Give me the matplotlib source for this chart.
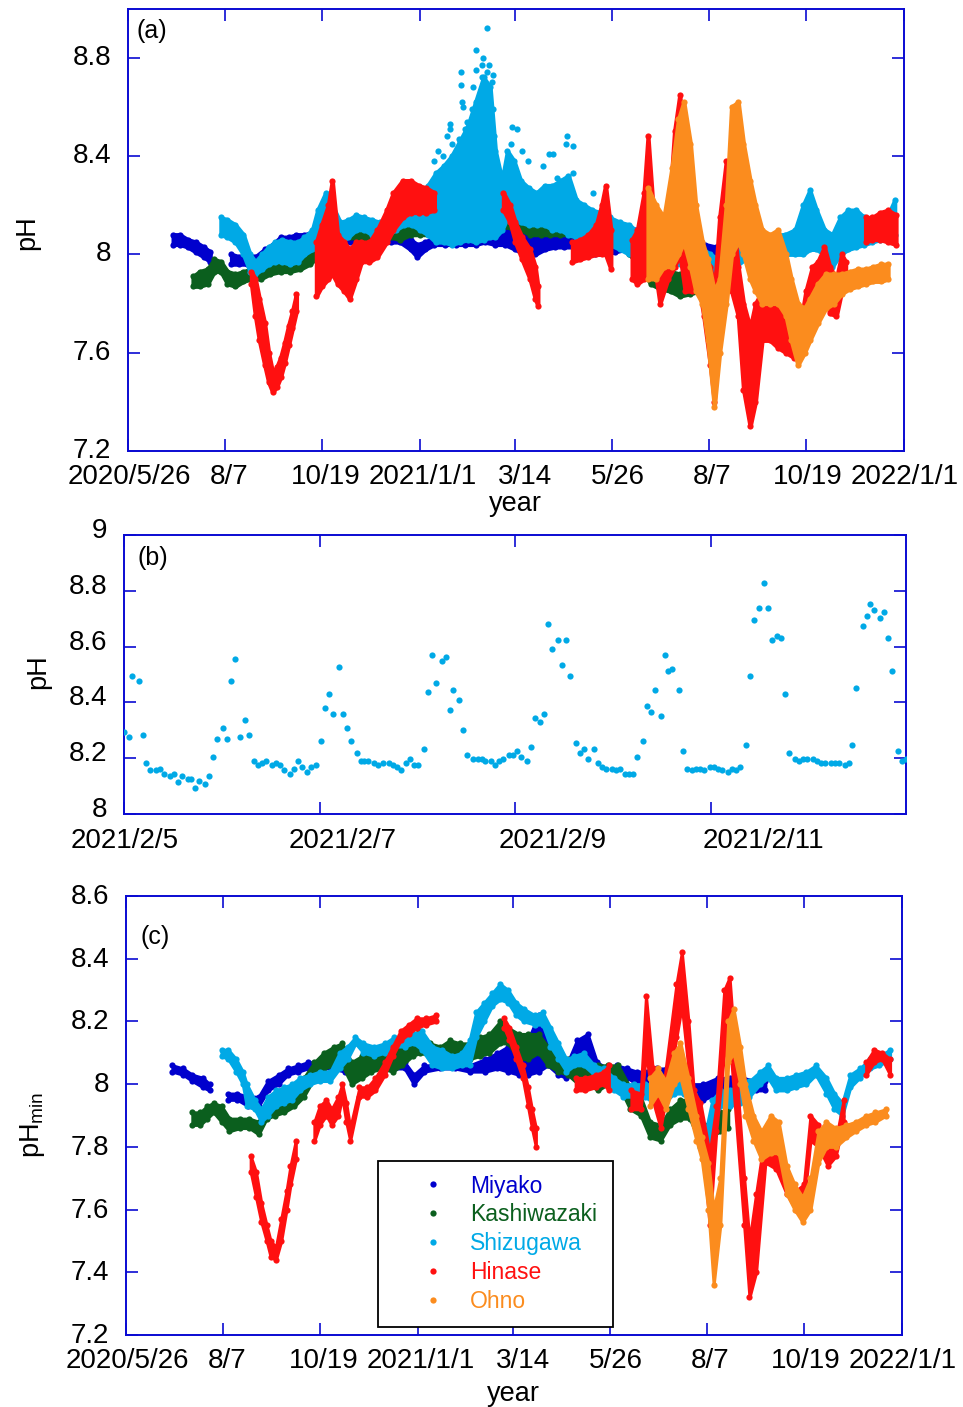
"""
pH time series at five coastal sites: raw pH (a), one week zoom (b), daily minimum (c)
"""
import numpy as np
import matplotlib
matplotlib.use('Agg')
import matplotlib.pyplot as plt
from matplotlib.lines import Line2D
from matplotlib.transforms import ScaledTranslation

plt.rcParams['font.family'] = ['Liberation Sans', 'DejaVu Sans']
plt.rcParams['mathtext.fontset'] = 'custom'
plt.rcParams['mathtext.rm'] = 'Liberation Sans'

SITES = ['Miyako', 'Kashiwazaki', 'Shizugawa', 'Hinase', 'Ohno']
COLORS = ['#0000CD', '#0B5F1E', '#00A9E6', '#FF1010', '#FB8C1E']
FRAME = '#0A0AD2'

# x axis of (a) and (c): days since 2020/5/26
date_ticks = [0, 73, 146, 220, 292, 365, 438, 511, 585]
date_labels = ['2020/5/26', '8/7', '10/19', '2021/1/1', '3/14', '5/26', '8/7', '10/19', '2022/1/1']

# ---- panel (a): pH range (low / high) read per time bin ----
miyako_a_t = [34, 39, 45, 51, 57, 62, 78, 84, 90, 96, 103, 109, 115, 121, 127, 133,
              139, 145, 152, 160, 167, 175, 182, 190, 198, 205, 213, 218, 224, 231, 239, 247,
              254, 262, 269, 277, 284, 292, 299, 307, 314, 322, 329, 337, 345, 352, 360, 367,
              375, 382, 390, 397, 405, 412, 420, 427, 435, 443, 450, 458, 465, 473, 480]
miyako_a_lo = [8.04, 8.04, 8.03, 8.01, 7.99, 7.97, 7.96, 7.96, 7.96, 7.95, 7.97, 7.99, 8.02, 8.03, 8.04, 8.05,
               8.05, 8.05, 8.05, 8.05, 8.05, 8.05, 8.05, 8.05, 8.05, 8.05, 8.02, 7.99, 8.02, 8.04, 8.04, 8.04,
               8.04, 8.04, 8.05, 8.04, 8.04, 8.02, 8.00, 8.00, 8.02, 8.03, 8.03, 8.03, 8.00, 8.00, 8.00, 8.01,
               8.02, 8.02, 8.02, 8.02, 8.02, 8.01, 8.01, 8.01, 8.00, 8.00, 7.99, 7.99, 8.00, 8.00, 8.00]
miyako_a_hi = [8.08, 8.08, 8.06, 8.05, 8.03, 8.01, 8.00, 7.99, 8.00, 7.99, 8.02, 8.04, 8.07, 8.07, 8.08, 8.08,
               8.09, 8.09, 8.09, 8.08, 8.08, 8.08, 8.09, 8.09, 8.09, 8.08, 8.06, 8.04, 8.05, 8.07, 8.07, 8.07,
               8.08, 8.10, 8.12, 8.15, 8.16, 8.17, 8.18, 8.20, 8.22, 8.20, 8.18, 8.14, 8.12, 8.10, 8.10, 8.10,
               8.10, 8.10, 8.08, 8.06, 8.06, 8.05, 8.05, 8.05, 8.04, 8.03, 8.03, 8.03, 8.03, 8.03, 8.02]

kashi_a_t = [49, 54, 60, 65, 70, 75, 81, 87, 93, 100, 107, 115, 122, 130, 137, 145, 152, 160, 167,
             175, 182, 190, 198, 205, 213, 220, 228, 235, 243, 250, 258, 265, 273, 280, 288, 296, 303,
             311, 318, 326, 333, 341, 348, 356, 363, 371, 378, 386, 394, 401, 409, 416, 424, 431, 439,
             446, 454]
kashi_a_lo = [7.87, 7.87, 7.88, 7.93, 7.93, 7.88, 7.87, 7.89, 7.90, 7.90, 7.92, 7.93, 7.93, 7.94, 7.96, 8.00,
              8.03, 8.07, 8.07, 8.06, 8.06, 8.06, 8.07, 8.06, 8.08, 8.08, 8.08, 8.08, 8.08, 8.09, 8.09, 8.09,
              8.10, 8.11, 8.11, 8.10, 8.08, 8.08, 8.08, 8.08, 8.08, 8.07, 8.06, 8.06, 8.07, 8.06, 8.00, 7.95,
              7.88, 7.86, 7.85, 7.83, 7.84, 7.85, 7.85, 7.86, 7.86]
kashi_a_hi = [7.91, 7.93, 7.94, 7.98, 7.97, 7.93, 7.92, 7.93, 7.94, 7.95, 7.96, 7.97, 7.97, 8.00, 8.02, 8.05,
              8.08, 8.12, 8.13, 8.12, 8.11, 8.10, 8.10, 8.11, 8.12, 8.14, 8.12, 8.12, 8.12, 8.13, 8.13, 8.13,
              8.15, 8.17, 8.18, 8.17, 8.15, 8.15, 8.14, 8.13, 8.12, 8.12, 8.12, 8.13, 8.14, 8.12, 8.10, 8.05,
              7.98, 7.95, 7.93, 7.92, 7.92, 7.93, 7.94, 7.95, 7.95]

shizu_a_t = [70, 75, 81, 87, 92, 96, 101, 106, 111, 116, 122, 128, 133, 139, 143, 149, 154, 160, 166, 172,
             178, 184, 190, 196, 202, 208, 214, 220, 226, 232, 238, 244, 250, 256, 262, 268, 273, 277, 282, 286,
             291, 296, 302, 308, 314, 320, 326, 332, 338, 344, 350, 356, 363, 371, 378, 386, 394, 401, 409, 416,
             424, 431, 439, 445, 451, 458, 465, 473, 480, 488, 495, 503, 509, 514, 519, 525, 531, 537, 543, 549,
             555, 561, 567, 573, 578]
shizu_a_lo = [8.08, 8.07, 8.05, 8.00, 7.93, 7.92, 7.94, 7.96, 7.97, 7.97, 7.96, 7.97, 8.00, 8.02, 8.05, 8.10, 8.08, 8.05, 8.07, 8.10,
              8.10, 8.08, 8.08, 8.08, 8.10, 8.12, 8.12, 8.10, 8.08, 8.05, 8.05, 8.04, 8.05, 8.06, 8.05, 8.06, 8.07, 8.07, 8.10, 8.15,
              8.15, 8.13, 8.12, 8.12, 8.12, 8.10, 8.10, 8.08, 8.07, 8.06, 8.05, 8.05, 8.04, 8.02, 8.00, 8.00, 7.98, 7.97, 7.96, 7.96,
              7.96, 7.95, 7.85, 7.78, 7.85, 7.95, 7.98, 7.99, 8.00, 8.00, 8.00, 8.00, 8.00, 8.02, 8.02, 8.00, 7.95, 8.00, 8.02, 8.03,
              8.04, 8.05, 8.06, 8.07, 8.08]
shizu_a_hi = [8.15, 8.14, 8.12, 8.08, 8.00, 7.97, 8.00, 8.03, 8.05, 8.06, 8.05, 8.05, 8.07, 8.10, 8.18, 8.25, 8.20, 8.13, 8.14, 8.16,
              8.15, 8.14, 8.13, 8.14, 8.15, 8.17, 8.20, 8.22, 8.28, 8.33, 8.36, 8.40, 8.46, 8.52, 8.62, 8.72, 8.68, 8.42, 8.30, 8.42,
              8.38, 8.30, 8.27, 8.25, 8.28, 8.28, 8.30, 8.32, 8.22, 8.20, 8.18, 8.17, 8.15, 8.13, 8.12, 8.08, 8.05, 8.04, 8.04, 8.03,
              8.04, 8.03, 8.00, 7.98, 8.00, 8.00, 8.05, 8.07, 8.07, 8.08, 8.08, 8.10, 8.20, 8.26, 8.18, 8.10, 8.08, 8.15, 8.18, 8.18,
              8.15, 8.14, 8.15, 8.16, 8.22]
# scattered high Shizugawa readings, winter 2021
shizu_a_sparse_t = [270.9, 262.4, 267.9, 266.6, 272.2, 250.8, 262.4, 270.9, 275.4, 266.6, 274.2, 251.0, 260.3, 270.9,
                    265.4, 251.6, 269.9, 275.4, 252.8, 259.1, 265.4, 255.3, 264.1, 242.8, 242.8, 254.1, 272.4, 259.1,
                    265.4, 275.9, 257.8, 249.8, 272.4, 240.3, 244.0, 234.0, 237.7, 247.8, 255.3, 262.9, 230.7, 241.5,
                    265.4, 275.4, 289.3, 293.5, 330.7, 330.2, 335.7, 317.4, 320.2, 296.8, 301.3, 313.1, 323.2, 335.7,
                    350.3, 288.7]
shizu_a_sparse_ph = [8.92, 8.83, 8.80, 8.77, 8.77, 8.74, 8.75, 8.74, 8.73, 8.72, 8.70, 8.69, 8.68, 8.67,
                     8.65, 8.62, 8.63, 8.59, 8.60, 8.59, 8.59, 8.54, 8.57, 8.53, 8.51, 8.51, 8.54, 8.52,
                     8.53, 8.48, 8.48, 8.47, 8.48, 8.48, 8.45, 8.42, 8.40, 8.42, 8.44, 8.44, 8.38, 8.36,
                     8.41, 8.42, 8.52, 8.51, 8.48, 8.45, 8.44, 8.41, 8.41, 8.42, 8.38, 8.36, 8.31, 8.33,
                     8.25, 8.45]

hinase_a_t = [93, 96, 99, 103, 106, 109, 112, 115, 118, 121, 124, 127,
              142, 146, 151, 154, 158, 163, 167, 172, 176, 182, 188, 195, 200, 207, 213, 219, 225, 231,
              283, 288, 292, 297, 303, 307, 309,
              335, 341, 347, 353, 357, 360, 364,
              380, 384, 389, 392, 397, 401, 407, 412, 416, 420, 425, 430, 434, 439, 442, 446, 451, 455,
              460, 464, 469, 473, 478, 484, 490, 496, 502, 507, 511, 516, 520, 525, 529, 534, 538, 541,
              556, 561, 567, 573, 579]
hinase_a_lo = [7.88, 7.75, 7.65, 7.55, 7.48, 7.44, 7.46, 7.50, 7.56, 7.63, 7.70, 7.77,
               7.83, 7.87, 7.90, 7.92, 7.88, 7.85, 7.82, 7.90, 7.97, 7.97, 7.99, 8.05, 8.10, 8.15, 8.17, 8.17, 8.17, 8.18,
               8.18, 8.13, 8.05, 7.98, 7.90, 7.82, 7.79,
               7.97, 7.98, 7.99, 8.00, 8.00, 8.00, 7.94,
               7.90, 7.88, 7.90, 8.00, 7.95, 7.80, 7.90, 7.95, 8.00, 7.85, 7.85, 7.88, 7.75, 7.55, 7.40, 7.70, 7.90, 7.85,
               7.75, 7.45, 7.30, 7.40, 7.65, 7.65, 7.62, 7.60, 7.58, 7.60, 7.70, 7.80, 7.85, 7.85, 7.76, 7.75, 7.85, 7.87,
               8.05, 8.06, 8.06, 8.05, 8.04]
hinase_a_hi = [7.93, 7.90, 7.82, 7.72, 7.60, 7.52, 7.54, 7.58, 7.64, 7.71, 7.77, 7.84,
               8.05, 8.12, 8.20, 8.30, 8.08, 8.05, 8.02, 8.05, 8.05, 8.05, 8.10, 8.18, 8.25, 8.30, 8.30, 8.28, 8.27, 8.25,
               8.25, 8.20, 8.13, 8.07, 8.02, 7.95, 7.87,
               8.05, 8.06, 8.08, 8.12, 8.20, 8.28, 8.10,
               8.06, 8.10, 8.25, 8.48, 8.10, 8.05, 8.10, 8.50, 8.65, 8.35, 8.05, 8.05, 8.00, 7.95, 7.85, 8.15, 8.38, 8.20,
               7.95, 7.80, 7.70, 7.80, 7.85, 7.85, 7.80, 7.78, 7.70, 7.72, 7.85, 7.95, 7.97, 8.03, 7.95, 7.90, 8.00, 7.97,
               8.15, 8.15, 8.17, 8.18, 8.16]

ohno_a_t = [392, 398, 404, 410, 415, 419, 424, 428, 433, 437, 442, 446, 451, 455, 460, 464, 469, 473,
            478, 484, 490, 496, 500, 505, 510, 514, 520, 526, 532, 538, 544, 550, 556, 562, 568, 573]
ohno_a_lo = [7.90, 7.90, 7.95, 7.95, 8.00, 8.05, 7.95, 7.85, 7.80, 7.65, 7.38, 7.60, 7.80, 8.00, 8.05, 8.00, 7.90, 7.85,
             7.80, 7.80, 7.80, 7.75, 7.65, 7.55, 7.60, 7.65, 7.72, 7.78, 7.80, 7.84, 7.86, 7.87, 7.88, 7.89, 7.89, 7.90]
ohno_a_hi = [8.27, 8.20, 8.15, 8.35, 8.55, 8.62, 8.45, 8.20, 8.05, 7.98, 7.85, 7.90, 8.20, 8.60, 8.62, 8.45, 8.30, 8.20,
             8.10, 8.08, 8.10, 8.00, 7.90, 7.80, 7.78, 7.82, 7.88, 7.92, 7.92, 7.92, 7.93, 7.94, 7.94, 7.95, 7.96, 7.96]

# ---- panel (b): Shizugawa, days since 2021/2/5 ----
shizu_b_t = [0.00, 0.05, 0.085, 0.15, 0.19, 0.23, 0.27, 0.33, 0.37, 0.41, 0.47, 0.51, 0.55, 0.59, 0.65, 0.69,
             0.73, 0.77, 0.83, 0.87, 0.91, 0.95, 1.01, 1.05, 1.09, 1.135, 1.19, 1.235, 1.275, 1.33, 1.375, 1.415,
             1.455, 1.515, 1.555, 1.60, 1.64, 1.695, 1.737, 1.78, 1.82, 1.877, 1.918, 1.96, 2.02, 2.06, 2.10, 2.14,
             2.20, 2.24, 2.28, 2.32, 2.38, 2.42, 2.46, 2.50, 2.56, 2.60, 2.645, 2.71, 2.75, 2.79, 2.83, 2.89,
             2.93, 2.97, 3.01, 3.07, 3.11, 3.15, 3.19, 3.25, 3.29, 3.33, 3.37, 3.43, 3.47, 3.51, 3.575, 3.617,
             3.66, 3.696, 3.754, 3.795, 3.836, 3.88, 3.94, 3.98, 4.02, 4.06, 4.12, 4.16, 4.20, 4.26, 4.30, 4.34,
             4.38, 4.44, 4.48, 4.52, 4.565, 4.627, 4.664, 4.705, 4.747, 4.81, 4.846, 4.887, 4.928, 4.99, 5.03, 5.07,
             5.13, 5.17, 5.21, 5.25, 5.31, 5.35, 5.394, 5.43, 5.49, 5.534, 5.57, 5.61, 5.675, 5.716, 5.757, 5.815,
             5.856, 5.897, 5.938, 5.997, 6.04, 6.08, 6.12, 6.18, 6.22, 6.26, 6.30, 6.36, 6.40, 6.44, 6.50, 6.545,
             6.586, 6.627, 6.685, 6.726, 6.767, 6.805, 6.866, 6.908, 6.95, 6.99, 7.048, 7.09, 7.13, 7.17, 7.23, 7.27,
             7.31, 7.373, 7.414, 7.45, 7.49, 7.555, 7.596, 7.634, 7.675, 7.736, 7.777, 7.818, 7.856, 7.918, 7.96, 8.0]
shizu_b_ph = [8.295, 8.275, 8.493, 8.477, 8.282, 8.183, 8.156, 8.156, 8.163, 8.142, 8.135, 8.142, 8.114, 8.135, 8.127, 8.127,
              8.093, 8.120, 8.107, 8.135, 8.204, 8.268, 8.310, 8.268, 8.477, 8.555, 8.275, 8.337, 8.282, 8.190, 8.176, 8.183,
              8.190, 8.176, 8.183, 8.176, 8.156, 8.142, 8.163, 8.190, 8.169, 8.149, 8.169, 8.176, 8.260, 8.380, 8.429, 8.358,
              8.527, 8.358, 8.310, 8.260, 8.218, 8.190, 8.190, 8.190, 8.183, 8.176, 8.183, 8.183, 8.176, 8.169, 8.156, 8.183,
              8.198, 8.176, 8.176, 8.232, 8.436, 8.569, 8.470, 8.548, 8.562, 8.373, 8.443, 8.407, 8.302, 8.211, 8.198, 8.198,
              8.198, 8.190, 8.190, 8.176, 8.190, 8.198, 8.212, 8.212, 8.225, 8.205, 8.190, 8.239, 8.344, 8.331, 8.358, 8.681,
              8.590, 8.625, 8.535, 8.625, 8.493, 8.254, 8.219, 8.232, 8.198, 8.232, 8.183, 8.169, 8.162, 8.162, 8.156, 8.162,
              8.142, 8.142, 8.142, 8.205, 8.260, 8.387, 8.365, 8.443, 8.351, 8.569, 8.513, 8.520, 8.443, 8.225, 8.162, 8.156,
              8.162, 8.162, 8.156, 8.169, 8.169, 8.162, 8.156, 8.149, 8.162, 8.156, 8.169, 8.246, 8.493, 8.695, 8.737, 8.829,
              8.737, 8.625, 8.639, 8.632, 8.429, 8.219, 8.198, 8.190, 8.198, 8.198, 8.198, 8.190, 8.183, 8.183, 8.183, 8.183,
              8.183, 8.176, 8.183, 8.246, 8.450, 8.674, 8.708, 8.751, 8.730, 8.702, 8.723, 8.632, 8.513, 8.225, 8.190, 8.198]
b_ticks = [0, 2, 4, 6]
b_labels = ['2021/2/5', '2021/2/7', '2021/2/9', '2021/2/11']

# ---- panel (c): daily minimum pH (low / high of the band per bin) ----
miyako_c_t = [35, 43, 50, 58, 63, 77, 84, 92, 100, 107, 115, 122, 130, 137, 146, 155, 165, 175,
              184, 193, 203, 210, 217, 225, 237, 248, 259, 271, 280, 288, 296, 303, 311, 318, 326,
              332, 340, 348, 355, 363, 370, 378, 385, 393, 400, 408, 415, 425, 435, 446, 455, 465, 475, 482]
miyako_c_lo = [8.04, 8.03, 8.01, 7.99, 7.98, 7.95, 7.95, 7.93, 7.93, 7.98, 8.00, 8.03, 8.04, 8.05, 8.05, 8.05, 8.04, 8.04,
               8.05, 8.05, 8.05, 8.05, 8.00, 8.04, 8.05, 8.05, 8.04, 8.04, 8.05, 8.04, 8.03, 8.03, 8.04, 8.06, 8.03,
               8.02, 8.09, 8.10, 8.02, 8.00, 8.02, 8.02, 8.00, 8.00, 8.02, 8.02, 8.02, 7.96, 7.95, 7.97, 7.97, 7.97, 7.98, 7.98]
miyako_c_hi = [8.06, 8.05, 8.03, 8.02, 8.00, 7.97, 7.97, 7.96, 7.96, 8.01, 8.03, 8.05, 8.06, 8.07, 8.07, 8.07, 8.06, 8.06,
               8.07, 8.07, 8.07, 8.07, 8.03, 8.06, 8.06, 8.06, 8.06, 8.08, 8.10, 8.12, 8.14, 8.14, 8.22, 8.12, 8.07,
               8.06, 8.14, 8.16, 8.07, 8.05, 8.06, 8.05, 8.04, 8.04, 8.05, 8.05, 8.05, 8.00, 8.00, 8.02, 8.02, 8.02, 8.01, 8.01]

kashi_c_t = [50, 56, 61, 66, 72, 78, 86, 93, 100, 106, 112, 119, 127, 134, 142, 149, 157, 163, 170,
             178, 185, 193, 201, 208, 216, 222, 229, 237, 244, 252, 259, 267, 274, 282, 288, 296, 303,
             311, 318, 326, 333, 341, 348, 356, 363, 371, 380, 388, 395, 403, 410, 418, 425, 433, 440,
             448, 454]
kashi_c_lo = [7.87, 7.87, 7.89, 7.91, 7.88, 7.85, 7.86, 7.86, 7.84, 7.89, 7.90, 7.91, 7.93, 7.96, 8.02, 8.05, 8.06, 8.06, 8.00,
              8.02, 8.04, 8.05, 8.04, 8.06, 8.09, 8.10, 8.09, 8.08, 8.09, 8.08, 8.08, 8.09, 8.10, 8.13, 8.13, 8.08, 8.08,
              8.10, 8.06, 8.04, 8.03, 8.00, 8.00, 7.98, 8.00, 8.00, 7.92, 7.90, 7.83, 7.82, 7.87, 7.89, 7.89, 7.81, 7.83,
              7.85, 7.86]
kashi_c_hi = [7.91, 7.91, 7.93, 7.94, 7.93, 7.89, 7.89, 7.89, 7.88, 7.93, 7.96, 7.95, 7.98, 8.02, 8.07, 8.10, 8.12, 8.13, 8.07,
              8.09, 8.10, 8.10, 8.12, 8.14, 8.16, 8.17, 8.13, 8.12, 8.14, 8.13, 8.13, 8.15, 8.16, 8.20, 8.18, 8.16, 8.16,
              8.16, 8.12, 8.09, 8.08, 8.06, 8.07, 8.06, 8.06, 8.06, 7.99, 7.96, 7.88, 7.87, 7.92, 7.95, 7.95, 7.86, 7.88,
              7.91, 7.92]

shizu_c_t = [72, 77, 83, 88, 91, 97, 102, 107, 113, 119, 125, 131, 139, 146, 154, 161, 167, 173, 179, 187,
             195, 202, 210, 217, 223, 231, 238, 246, 253, 259, 264, 270, 276, 282, 288, 294, 300, 308, 314, 320,
             326, 332, 338, 345, 353, 360, 368, 375, 383, 391, 398, 406, 413, 421, 428, 433, 437, 442, 448, 455,
             463, 470, 478, 484, 490, 498, 505, 513, 520, 528, 534, 540, 546, 553, 561, 568, 576]
shizu_c_lo = [8.09, 8.08, 8.04, 8.00, 7.93, 7.92, 7.88, 7.90, 7.93, 7.94, 7.95, 7.98, 8.00, 8.01, 8.01, 8.05, 8.08, 8.13, 8.10, 8.09,
              8.10, 8.12, 8.12, 8.13, 8.11, 8.06, 8.05, 8.05, 8.06, 8.06, 8.15, 8.20, 8.25, 8.27, 8.26, 8.22, 8.20, 8.19, 8.19, 8.12,
              8.08, 8.04, 8.06, 8.06, 8.03, 8.02, 7.98, 7.96, 7.96, 7.96, 7.94, 7.94, 7.97, 7.97, 7.92, 7.80, 7.75, 7.88, 7.93, 7.93,
              7.94, 7.96, 8.00, 8.02, 7.98, 7.98, 7.99, 8.00, 8.03, 7.97, 7.92, 7.90, 7.99, 8.02, 8.05, 8.06, 8.08]
shizu_c_hi = [8.11, 8.11, 8.08, 8.04, 8.00, 7.95, 7.92, 7.96, 7.98, 7.99, 8.00, 8.02, 8.03, 8.04, 8.04, 8.10, 8.12, 8.15, 8.13, 8.12,
              8.13, 8.15, 8.15, 8.16, 8.17, 8.12, 8.11, 8.09, 8.10, 8.14, 8.23, 8.26, 8.29, 8.32, 8.30, 8.26, 8.24, 8.22, 8.23, 8.18,
              8.13, 8.08, 8.09, 8.10, 8.06, 8.05, 8.02, 8.00, 8.00, 8.00, 8.00, 8.00, 8.01, 8.01, 7.97, 7.90, 7.85, 7.95, 7.98, 7.98,
              8.00, 8.01, 8.04, 8.06, 8.02, 8.02, 8.03, 8.04, 8.06, 8.02, 7.97, 7.94, 8.03, 8.05, 8.08, 8.09, 8.11]

hinase_c_t = [94, 98, 102, 106, 109, 113, 117, 121, 124, 128,
              142, 146, 151, 155, 160, 163, 166, 169, 176, 182, 188, 195, 201, 207, 213, 219, 226, 234,
              285, 289, 294, 299, 303, 306, 309,
              339, 346, 354, 360, 364,
              381, 388, 392, 397, 403, 415, 419, 424, 428, 433, 440, 445, 451, 455, 466, 470, 475,
              482, 490, 498, 505, 511, 516, 522, 529, 535, 541,
              558, 564, 570, 576]
hinase_c_lo = [7.72, 7.64, 7.56, 7.50, 7.45, 7.44, 7.50, 7.60, 7.68, 7.76,
               7.82, 7.87, 7.90, 7.87, 7.90, 7.96, 7.88, 7.82, 7.96, 7.96, 7.98, 8.03, 8.09, 8.14, 8.16, 8.18, 8.19, 8.20,
               8.18, 8.14, 8.08, 8.02, 7.93, 7.86, 7.80,
               7.98, 7.98, 7.99, 8.00, 7.98,
               7.92, 7.92, 8.10, 7.95, 7.86, 8.15, 8.25, 8.05, 7.90, 7.88, 7.55, 7.85, 8.10, 8.15, 7.55, 7.32, 7.40,
               7.75, 7.73, 7.65, 7.60, 7.62, 7.82, 7.80, 7.74, 7.77, 7.88,
               8.03, 8.07, 8.08, 8.03]
hinase_c_hi = [7.77, 7.72, 7.62, 7.55, 7.50, 7.48, 7.57, 7.66, 7.74, 7.82,
               7.88, 7.93, 7.95, 7.92, 7.96, 8.00, 7.94, 7.86, 7.99, 7.99, 8.02, 8.07, 8.12, 8.17, 8.19, 8.21, 8.21, 8.22,
               8.21, 8.18, 8.12, 8.06, 7.99, 7.92, 7.86,
               8.02, 8.02, 8.03, 8.04, 8.06,
               7.98, 7.97, 8.28, 8.05, 7.92, 8.32, 8.42, 8.20, 7.98, 7.94, 7.78, 7.93, 8.30, 8.34, 7.70, 7.50, 7.65,
               7.85, 7.82, 7.72, 7.66, 7.68, 7.90, 7.87, 7.80, 7.82, 7.95,
               8.07, 8.11, 8.10, 8.08]

ohno_c_t = [395, 401, 407, 413, 418, 424, 430, 434, 439, 443, 448, 454, 458, 463, 467, 473,
            479, 486, 492, 498, 504, 510, 516, 522, 528, 535, 543, 550, 558, 565, 573]
ohno_c_lo = [7.93, 7.97, 7.92, 8.00, 8.02, 7.92, 7.82, 7.76, 7.60, 7.36, 7.55, 8.07, 8.10, 8.00, 7.90, 7.82,
             7.76, 7.78, 7.78, 7.65, 7.60, 7.56, 7.60, 7.75, 7.80, 7.80, 7.83, 7.85, 7.87, 7.88, 7.90]
ohno_c_hi = [8.02, 8.05, 8.01, 8.10, 8.13, 8.02, 7.90, 7.83, 7.75, 7.60, 7.70, 8.20, 8.24, 8.12, 8.00, 7.90,
             7.85, 7.90, 7.88, 7.74, 7.68, 7.64, 7.70, 7.85, 7.88, 7.86, 7.87, 7.88, 7.90, 7.91, 7.92]

series_a = [(miyako_a_t, miyako_a_lo, miyako_a_hi), (kashi_a_t, kashi_a_lo, kashi_a_hi),
            (shizu_a_t, shizu_a_lo, shizu_a_hi), (hinase_a_t, hinase_a_lo, hinase_a_hi),
            (ohno_a_t, ohno_a_lo, ohno_a_hi)]
series_c = [(miyako_c_t, miyako_c_lo, miyako_c_hi), (kashi_c_t, kashi_c_lo, kashi_c_hi),
            (shizu_c_t, shizu_c_lo, shizu_c_hi), (hinase_c_t, hinase_c_lo, hinase_c_hi),
            (ohno_c_t, ohno_c_lo, ohno_c_hi)]

DOT = 20      # scatter size, pt^2
TICK_FS = 20
LABEL_FS = 19.5


def draw_band(ax, t, lo, hi, color, z, edge=3.0, gap=13):
    """Dense cloud of points drawn as a filled low/high band with dotted edges"""
    t = np.asarray(t, float)
    lo = np.asarray(lo, float)
    hi = np.asarray(hi, float)
    breaks = np.where(np.diff(t) > gap)[0] + 1
    for seg in np.split(np.arange(len(t)), breaks):
        ax.fill_between(t[seg], lo[seg], hi[seg], facecolor=color, edgecolor=color,
                        lw=edge, joinstyle='round', zorder=z)
    ax.scatter(t, lo, s=DOT, color=color, lw=0, zorder=z)
    ax.scatter(t, hi, s=DOT, color=color, lw=0, zorder=z)


def shift(labels, dx_px, dy_px=0):
    for lab, dx in zip(labels, dx_px):
        lab.set_transform(lab.get_transform() +
                          ScaledTranslation(dx / 100, dy_px / 100, fig.dpi_scale_trans))


def style_axes(ax, xpad, ypad=12):
    for sp in ax.spines.values():
        sp.set_color(FRAME)
        sp.set_linewidth(1.4)
    ax.tick_params(which='both', direction='in', top=True, right=True, length=8.6,
                   width=1.2, color=FRAME, labelsize=TICK_FS, labelcolor='black')
    ax.tick_params(axis='x', pad=xpad)
    ax.tick_params(axis='y', pad=ypad)
    ax.yaxis.set_major_formatter(plt.FuncFormatter(lambda v, p: f'{round(v, 2):g}'))


fig = plt.figure(figsize=(9.63, 14.07), dpi=100)
ax_a = fig.add_axes([128 / 963, 1 - 451 / 1407, 776 / 963, 442.5 / 1407])
ax_b = fig.add_axes([124 / 963, 1 - 814 / 1407, 782 / 963, 279 / 1407])
ax_c = fig.add_axes([126 / 963, 1 - 1335 / 1407, 776 / 963, 439 / 1407])

# (a)
for i, (t, lo, hi) in enumerate(series_a):
    draw_band(ax_a, t, lo, hi, COLORS[i], z=2 + i)
    if SITES[i] == 'Shizugawa':
        ax_a.scatter(shizu_a_sparse_t, shizu_a_sparse_ph, s=DOT, color=COLORS[i], lw=0, zorder=2 + i)
ax_a.set_xlim(0, 585)
ax_a.set_ylim(7.2, 9.0)
ax_a.set_xticks(date_ticks, date_labels)
ax_a.set_yticks([7.2, 7.6, 8.0, 8.4, 8.8])
style_axes(ax_a, xpad=9.5)
ax_a.text(0.011, 0.976, '(a)', transform=ax_a.transAxes, fontsize=18, va='top', ha='left')
ax_a.text(-0.130, 0.493, 'pH', transform=ax_a.transAxes, fontsize=LABEL_FS, rotation=90,
          ha='center', va='center')
ax_a.text(0.499, -0.120, 'year', transform=ax_a.transAxes, fontsize=LABEL_FS, ha='center', va='center')

# (b)
ax_b.scatter(shizu_b_t, shizu_b_ph, s=DOT, color=COLORS[2], lw=0, zorder=3)
ax_b.set_xlim(0, 8.0)
ax_b.set_ylim(8.0, 9.0)
ax_b.set_xticks(b_ticks, b_labels)
ax_b.set_yticks(np.round(np.arange(8.0, 9.01, 0.2), 1))
style_axes(ax_b, xpad=10)
ax_b.text(0.017, 0.96, '(b)', transform=ax_b.transAxes, fontsize=18, va='top', ha='left')
ax_b.text(-0.110, 0.509, 'pH', transform=ax_b.transAxes, fontsize=LABEL_FS, rotation=90,
          ha='center', va='center')

# (c)
for i, (t, lo, hi) in enumerate(series_c):
    draw_band(ax_c, t, lo, hi, COLORS[i], z=2 + i, edge=2.2)
ax_c.set_xlim(0, 585)
ax_c.set_ylim(7.2, 8.6)
ax_c.set_xticks(date_ticks, date_labels)
ax_c.set_yticks(np.round(np.arange(7.2, 8.61, 0.2), 1))
style_axes(ax_c, xpad=9)
ax_c.text(0.019, 0.935, '(c)', transform=ax_c.transAxes, fontsize=18, va='top', ha='left')
ax_c.text(-0.121, 0.478, 'pH$_{\\rm min}$', transform=ax_c.transAxes, fontsize=LABEL_FS, rotation=90,
          ha='center', va='center')
ax_c.text(0.499, -0.134, 'year', transform=ax_c.transAxes, fontsize=LABEL_FS, ha='center', va='center')

handles = [Line2D([], [], ls='none', marker='o', markersize=4.5, color=c, markeredgewidth=0)
           for c in COLORS]
leg = ax_c.legend(handles, SITES, loc='lower left', mode='expand',
                  bbox_to_anchor=(0.3247, 0.018, 0.3029, 0.374), borderaxespad=0,
                  fontsize=16.5, labelcolor=COLORS, frameon=True, fancybox=False,
                  edgecolor='black', framealpha=1, borderpad=0.6, labelspacing=0.26,
                  handlelength=3.6, handletextpad=-0.2)
leg.get_frame().set_linewidth(1.3)
leg.set_zorder(10)

# label offsets as seen in the original layout
date_dx = [1, 4, 4, 3, 10, 6, 3, 2, 1]
shift(ax_a.get_xticklabels(), date_dx)
shift(ax_c.get_xticklabels(), date_dx)
shift(ax_a.get_yticklabels(), [0] * 5, dy_px=3)
shift(ax_c.get_yticklabels(), [0] * 8, dy_px=2)
shift(ax_b.get_xticklabels(), [1, 23, 38, 53])
shift(ax_b.get_yticklabels(), [0] * 6, dy_px=7)

fig.savefig('out.png', dpi=100)
